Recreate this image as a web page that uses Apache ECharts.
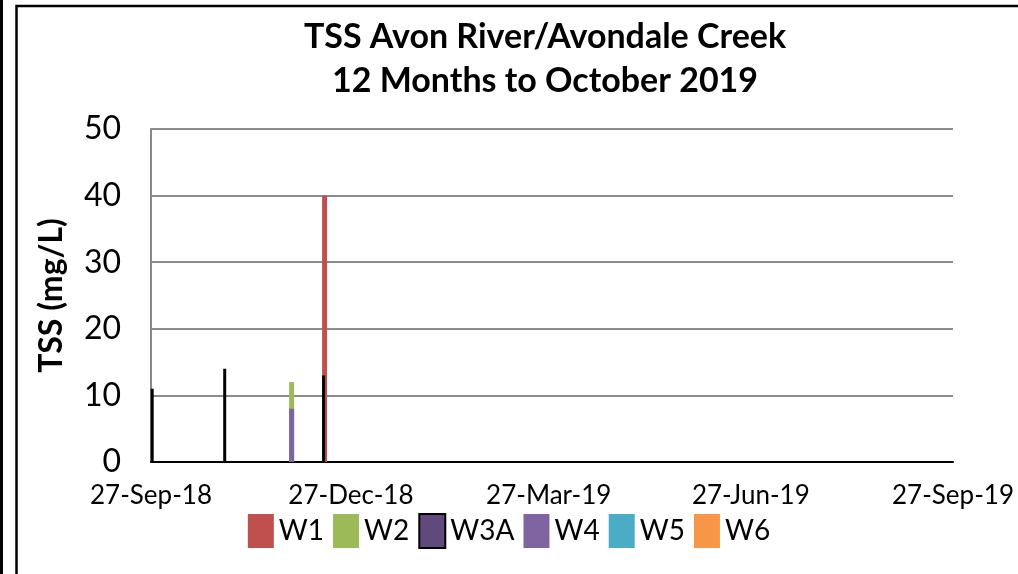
<!DOCTYPE html>
<html>
<head>
<meta charset="utf-8">
<title>TSS Avon River/Avondale Creek</title>
<script src="https://cdn.jsdelivr.net/npm/echarts@6/dist/echarts.min.js"></script>
<style>
  html, body { margin: 0; padding: 0; background: #fff; }
  #chart { width: 1018px; height: 574px; }
</style>
</head>
<body>
<div id="chart"></div>
<script>
// Sample results (mg/L) per site, by sampling date
const w1 = [['2018-12-15', 40]];
const w2 = [['2018-11-30', 12]];
const w3a = [['2018-09-28', 11], ['2018-10-31', 14], ['2018-12-15', 13]];
const w4 = [['2018-11-30', 8]];
const w5 = [];
const w6 = [];

const tickDates = ['2018-09-27', '2018-12-27', '2019-03-27', '2019-06-27', '2019-09-27'];
const months = ['Jan', 'Feb', 'Mar', 'Apr', 'May', 'Jun', 'Jul', 'Aug', 'Sep', 'Oct', 'Nov', 'Dec'];

const FONT = 'Lato';

function toTime(s) {
  const p = s.split('-').map(Number);
  return new Date(p[0], p[1] - 1, p[2]).getTime();
}

function fmtDate(v) {
  const d = new Date(v);
  return d.getDate() + '-' + months[d.getMonth()] + '-' + String(d.getFullYear()).slice(2);
}

const tickTimes = tickDates.map(toTime);

function barSeries(name, data, color, width, extra = {}) {
  return {
    name,
    type: 'bar',
    data: data.map(d => [toTime(d[0]), d[1]]),
    barWidth: width,
    barGap: '-100%',
    itemStyle: { color, ...extra },
  };
}

const chart = echarts.init(document.getElementById('chart'));

chart.setOption({
  animation: false,
  backgroundColor: '#fff',
  textStyle: { fontFamily: FONT },
  title: {
    text: 'TSS Avon River/Avondale Creek\n12 Months to October 2019',
    left: 540,
    textAlign: 'center',
    top: 10,
    textStyle: {
      fontFamily: FONT,
      fontSize: 34,
      fontWeight: 'bold',
      color: '#000',
      lineHeight: 44,
    },
  },
  legend: {
    top: 508,
    left: 'center',
    itemWidth: 26,
    itemHeight: 34,
    itemGap: 9,
    symbolKeepAspect: false,
    textStyle: { fontFamily: FONT, fontSize: 28, color: '#000' },
    data: ['W1', 'W2', 'W3A', 'W4', 'W5', 'W6'].map(n => ({ name: n, icon: 'rect' })),
  },
  grid: { left: 151, right: 65, top: 129, bottom: 112 },
  xAxis: {
    type: 'value',
    min: tickTimes[0],
    max: tickTimes[tickTimes.length - 1],
    axisLine: { lineStyle: { color: '#000', width: 2 } },
    axisTick: { show: false },
    splitLine: { show: false },
    axisLabel: {
      customValues: tickTimes,
      formatter: fmtDate,
      fontFamily: FONT,
      fontSize: 26,
      color: '#000',
      margin: 21,
      hideOverlap: false,
      showMinLabel: true,
      showMaxLabel: true,
    },
  },
  yAxis: {
    type: 'value',
    min: 0,
    max: 50,
    interval: 10,
    name: 'TSS (mg/L)',
    nameLocation: 'middle',
    nameGap: 83,
    nameTextStyle: { fontFamily: FONT, fontSize: 32, fontWeight: 'bold', color: '#000' },
    axisLine: { show: true, lineStyle: { color: '#888', width: 2 } },
    axisTick: { show: false },
    axisLabel: { fontFamily: FONT, fontSize: 32, color: '#000', margin: 30 },
    splitLine: { lineStyle: { color: '#8c8c8c', width: 2 } },
  },
  series: [
    barSeries('W1', w1, '#C0504D', 5),
    barSeries('W2', w2, '#9BBB59', 5),
    barSeries('W3A', w3a, '#604A7B', 3, { borderColor: '#000', borderWidth: 2 }),
    barSeries('W4', w4, '#8064A2', 5),
    barSeries('W5', w5, '#4BACC6', 5),
    barSeries('W6', w6, '#F79646', 5),
  ],
  graphic: [
    { type: 'line', shape: { x1: 1.5, y1: 0, x2: 1.5, y2: 574 }, style: { stroke: '#000', lineWidth: 3 }, silent: true },
    { type: 'polyline', shape: { points: [[16.5, 574], [16.5, 6], [1018, 6]] }, style: { stroke: '#000', lineWidth: 2.5, fill: null }, silent: true },
  ],
});
</script>
</body>
</html>
